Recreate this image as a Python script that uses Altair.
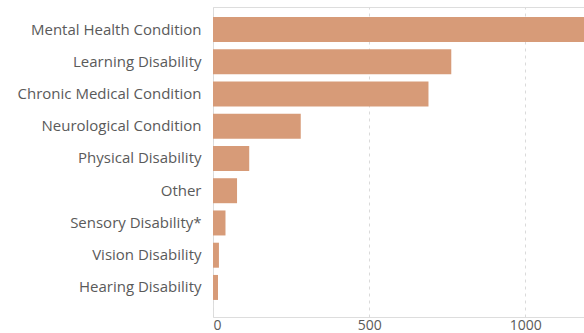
import altair as alt
import pandas as pd

categories = [
    "Mental Health Condition",
    "Learning Disability",
    "Chronic Medical Condition",
    "Neurological Condition",
    "Physical Disability",
    "Other",
    "Sensory Disability*",
    "Vision Disability",
    "Hearing Disability",
]
counts = [1188, 763, 690, 281, 116, 77, 40, 19, 16]
x_ticks = [0, 500, 1000]

df = pd.DataFrame({"category": categories, "count": counts})

FONT = "Segoe UI, Open Sans, sans-serif"
LABEL_COLOR = "#5A5A5A"

chart = (
    alt.Chart(df)
    .mark_bar(color="#D79B78")
    .encode(
        y=alt.Y(
            "category:N",
            sort=categories,
            title=None,
            scale=alt.Scale(paddingInner=0.225, paddingOuter=0.42, align=0.37),
            axis=alt.Axis(
                domain=False,
                ticks=False,
                labelPadding=12,
                labelFontSize=15,
                labelLimit=260,
                labelFont=FONT,
                labelColor=LABEL_COLOR,
                grid=False,
            ),
        ),
        x=alt.X(
            "count:Q",
            title=None,
            scale=alt.Scale(domain=[0, 1188], nice=False),
            axis=alt.Axis(
                values=x_ticks,
                format="d",
                domain=False,
                ticks=False,
                labelPadding=1,
                labelFontSize=14,
                labelFont=FONT,
                labelColor=LABEL_COLOR,
                grid=True,
                gridColor="#DADADA",
                gridDash=[3, 4],
                gridWidth=1,
            ),
        ),
    )
    .properties(
        width=371,
        height=310,
        autosize=alt.AutoSizeParams(type="none"),
        padding={"left": 213, "top": 7, "right": 0, "bottom": 16},
    )
    .configure_view(stroke=None)
    .configure(background="white")
)

chart.save("out.html", embed_options={"renderer": "svg", "actions": False})
